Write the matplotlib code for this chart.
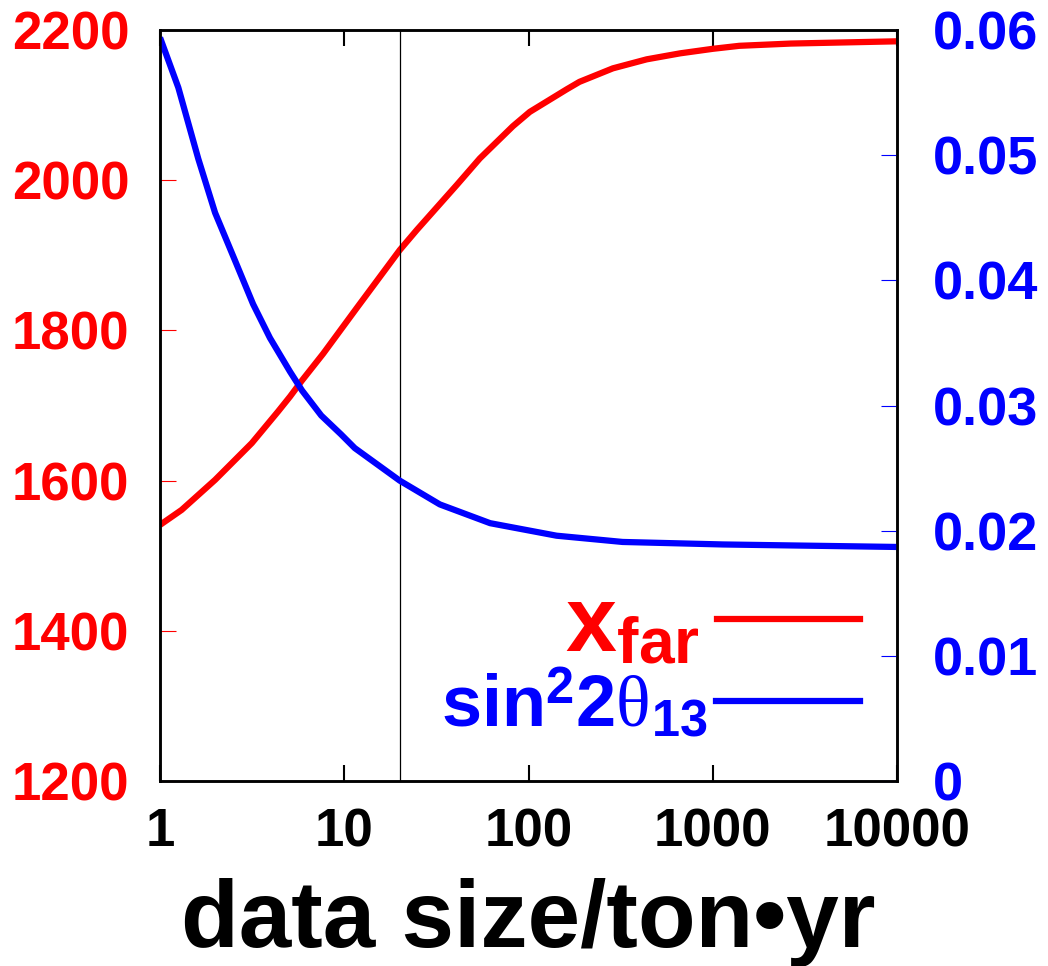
# Position lointaine optimale et sensibilité sur sin^2(2θ13)
# en fonction de la taille des données (ton.yr)

import matplotlib.pyplot as plt
import numpy as np
from matplotlib.lines import Line2D

plt.rcParams['font.family'] = 'Liberation Sans'
plt.rcParams['font.weight'] = 'bold'
plt.rcParams['mathtext.fontset'] = 'custom'
plt.rcParams['mathtext.bf'] = 'Liberation Sans:bold'
plt.rcParams['mathtext.rm'] = 'Liberation Serif:weight=normal'
plt.rcParams['mathtext.it'] = 'Liberation Serif:italic:weight=normal'

# taille des données (ton.yr)
size_far = np.array([1, 1.31, 1.99, 3.15, 4.37, 5.08, 5.88, 7.68, 11.7, 20,
                     24.8, 40.9, 54.4, 82.3, 101.6, 161, 189, 287, 438, 666,
                     1000, 1394, 2655, 10000])
# distance du détecteur lointain (m)
x_far = np.array([1541, 1561, 1601, 1650, 1692, 1712, 1733, 1769, 1830, 1907,
                  1934, 1994, 2029, 2072, 2091, 2121, 2131, 2149, 2161, 2169,
                  2175, 2179, 2182, 2185])

size_s2 = np.array([1, 1.257, 1.614, 1.99, 2.55, 3.2, 3.95, 5.08, 5.9, 7.5,
                    9.6, 11.4, 20, 33, 61.9, 142, 324, 1136, 10000])
# sensibilité sin^2(2θ13)
s2t13 = np.array([0.0594, 0.0554, 0.0497, 0.0454, 0.0416, 0.0381, 0.0354,
                  0.0327, 0.0312, 0.0292, 0.0277, 0.0266, 0.0240, 0.0221,
                  0.0206, 0.0196, 0.0191, 0.0189, 0.0187])

SIZE_REF = 20  # ton.yr

x_ticks = [1, 10, 100, 1000, 10000]
x_labels = ['1', '10', '100', '1000', '10000']
y1_ticks = [1200, 1400, 1600, 1800, 2000, 2200]
y2_ticks = [0, 0.01, 0.02, 0.03, 0.04, 0.05, 0.06]
y2_labels = ['0', '0.01', '0.02', '0.03', '0.04', '0.05', '0.06']

fig = plt.figure(figsize=(10.48, 9.66), dpi=100)
ax = fig.add_axes([0.1527, 0.1915, 0.7032, 0.7774])
ax2 = ax.twinx()

ax.plot(size_far, x_far, color='red', lw=4.5, solid_capstyle='butt')
ax2.plot(size_s2, s2t13, color='blue', lw=4.5, solid_capstyle='butt')
ax.axvline(SIZE_REF, color='black', lw=0.9)

ax.set_xscale('log')
ax.set_xlim(1, 10000)
ax.set_ylim(1200, 2200)
ax2.set_ylim(0, 0.06)

ax.set_xticks(x_ticks)
ax.set_xticklabels(x_labels)
ax.set_yticks(y1_ticks)
ax2.set_yticks(y2_ticks)
ax2.set_yticklabels(y2_labels)

ax.tick_params(axis='x', which='major', direction='in', length=11.5, width=1.5,
               top=True, labelsize=38, pad=19)
ax.tick_params(axis='x', which='minor', direction='in', length=5.8, width=1.5,
               top=True)
ax.tick_params(axis='y', direction='in', length=11.5, width=0.8, color='red',
               labelcolor='red', labelsize=38, pad=22)
ax2.tick_params(axis='y', direction='in', length=11.5, width=0.8, color='blue',
                labelcolor='blue', labelsize=39, pad=26)

for a in (ax, ax2):
    for s in a.spines.values():
        s.set_linewidth(1.8)

ax.set_xlabel('data size/ton•yr', fontsize=68, fontweight='bold', labelpad=15)

# légende : texte à gauche, échantillon de trait à droite
h1 = [Line2D([], [], color='red', lw=4.5)]
leg1 = ax2.legend(h1, [r'$\mathbf{x}_{\mathbf{far}}$'], loc='center right',
                  bbox_to_anchor=(0.9498, 0.2051), frameon=False,
                  markerfirst=False, borderpad=0, borderaxespad=0,
                  handlelength=1.56, handletextpad=0.19, fontsize=66)
leg1.get_texts()[0].set_color('red')
ax2.add_artist(leg1)
h2 = [Line2D([], [], color='blue', lw=4.5)]
leg2 = ax2.legend(h2, [r'$\mathbf{sin}^{\mathbf{2}}\mathbf{2}\mathrm{\theta}_{\mathbf{13}}$'],
                  loc='center right', bbox_to_anchor=(0.9498, 0.1025),
                  frameon=False, markerfirst=False, borderpad=0,
                  borderaxespad=0, handlelength=2.0, handletextpad=0.11,
                  fontsize=52)
leg2.get_texts()[0].set_color('blue')

plt.savefig('out.png', dpi=100)
